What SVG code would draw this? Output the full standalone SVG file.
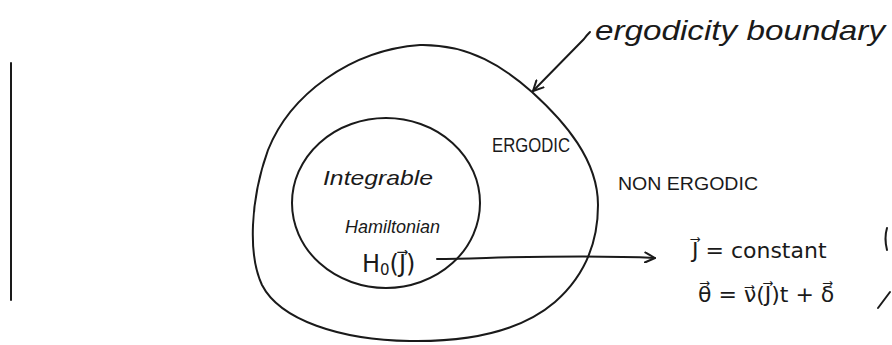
<svg xmlns="http://www.w3.org/2000/svg" width="892" height="345" viewBox="0 0 892 345">
<style>
.ln{fill:none;stroke:#1a1a1a;stroke-width:2;stroke-linecap:round;stroke-linejoin:round}
.t{font-family:"Liberation Sans","DejaVu Sans",sans-serif;fill:#1a1a1a}
.s{font-style:italic}
.m{font-family:"DejaVu Sans","Liberation Sans",sans-serif;fill:#1a1a1a}
</style>
<defs>
<marker id="ah" viewBox="0 0 12 12" refX="11" refY="6" markerWidth="12" markerHeight="12" markerUnits="userSpaceOnUse" orient="auto">
<path d="M1 1 L11 6 L1 11" fill="none" stroke="#1a1a1a" stroke-width="2" stroke-linecap="round" stroke-linejoin="round"/>
</marker>
</defs>
<rect width="892" height="345" fill="#fff"/>
<path class="ln" d="M11 63 L11 300" stroke-width="3"/>
<g id="ergodic-region">
<path class="ln" d="M420 45 C470 44 505 68 532 92 C565 122 598 160 598 205 C598 250 580 280 555 302 C520 332 470 342 410 341 C340 340 280 320 262 285 C248 255 250 200 268 150 C290 95 350 50 420 45 Z"/>
<text class="t" x="492" y="152" font-size="20" textLength="78" lengthAdjust="spacingAndGlyphs">ERGODIC</text>
</g>
<g id="integrable-region">
<ellipse class="ln" cx="386" cy="203" rx="94" ry="85"/>
<text class="t s" x="323" y="185" font-size="21" textLength="110" lengthAdjust="spacingAndGlyphs">Integrable</text>
<text class="t s" x="345" y="233" font-size="19" textLength="95" lengthAdjust="spacingAndGlyphs">Hamiltonian</text>
<text class="m" x="362" y="272" font-size="24">H<tspan font-size="15" dy="3">0</tspan><tspan dy="-3">(J⃗)</tspan></text>
</g>
<g id="non-ergodic">
<text class="t" x="618" y="190" font-size="19" textLength="140" lengthAdjust="spacingAndGlyphs">NON ERGODIC</text>
</g>
<g id="boundary-label">
<text class="t s" x="595" y="40" font-size="28" textLength="290" lengthAdjust="spacingAndGlyphs">ergodicity boundary</text>
</g>
<g id="solution">
<text class="m" x="692" y="258" font-size="22">J⃗ = constant</text>
<text class="m" x="698" y="302" font-size="22">θ⃗ = ν⃗(J⃗)t + δ⃗</text>
</g>
<g id="edge-marks">
<path class="ln" d="M887 228 Q884 238 887 250"/>
<path class="ln" d="M878 308 L890 292"/>
</g>
<g id="connectors">
<path class="ln" d="M590 32 Q586 36 584 39 L533 91" marker-end="url(#ah)"/>
<path class="ln" d="M437 259 C500 258 580 254 655 258" marker-end="url(#ah)"/>
</g>
</svg>
